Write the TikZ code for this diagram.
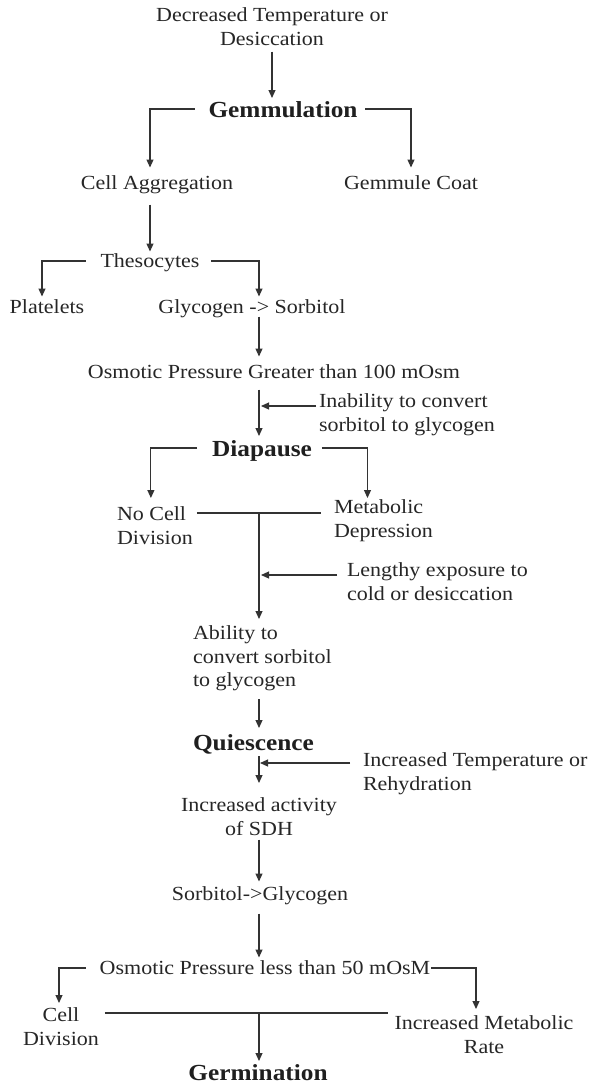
\documentclass[tikz,border=0pt]{standalone}
\usepackage{fontspec}
\setmainfont{Liberation Serif}[FakeStretch=1.1]
\usetikzlibrary{arrows.meta,calc}
\begin{document}
\begin{tikzpicture}[x=1pt,y=-1pt,
  txt/.style={inner sep=0pt,outer sep=0pt,font=\fontsize{20}{23.5}\selectfont,text=black!85},
  one/.style={txt,text height=16pt,text depth=3pt},
  big/.style={inner sep=0pt,outer sep=0pt,font=\fontsize{23}{27}\selectfont\bfseries,text=black!88,text height=18pt,text depth=2pt},
  arr/.style={draw=black!80,line width=1.1pt,-{Triangle[length=8pt,width=7pt]}},
  ln/.style={draw=black!80,line width=1.1pt}]
\useasboundingbox[fill=white] (0,0) rectangle (594,1085);
\coordinate (sp) at (259,0);

\node[txt,align=center,anchor=north] (top) at (272,8) {Decreased Temperature or\\Desiccation};
\node[big] (gem) at (283,109) {Gemmulation};
\node[one] (cellagg) at (157,183) {Cell Aggregation};
\node[one] (coat) at (411,183) {Gemmule Coat};
\node[one] (thes) at (150,261) {Thesocytes};
\node[one] (plat) at (47,307) {Platelets};
\node[one] (glyc) at (252,307) {Glycogen -> Sorbitol};
\node[one] (osm1) at (274,372) {Osmotic Pressure Greater than 100 mOsm};
\node[txt,align=left,anchor=north west] (inab) at (319,394) {Inability to convert\\sorbitol to glycogen};
\node[big] (diap) at (262,448) {Diapause};
\node[txt,align=left,anchor=north west] (nocell) at (117,507) {No Cell\\Division};
\node[txt,align=left,anchor=north west] (metab) at (334,500) {Metabolic\\Depression};
\node[txt,align=left,anchor=north west] (lengthy) at (347,563) {Lengthy exposure to\\cold or desiccation};
\node[txt,align=left,anchor=north west] (ability) at (193,626) {Ability to\\convert sorbitol\\to glycogen};
\node[big,anchor=west] (quies) at (193,742) {Quiescence};
\node[txt,align=left,anchor=north west] (inctemp) at (363,753) {Increased Temperature or\\Rehydration};
\node[txt,align=center,anchor=north] (sdh) at (259,798) {Increased activity\\of SDH};
\node[one] (sorb) at (260,894) {Sorbitol->Glycogen};
\node[one] (osm2) at (265,968) {Osmotic Pressure less than 50 mOsM};
\node[txt,align=center,anchor=north] (celldiv) at (61,1008) {Cell\\Division};
\node[txt,align=center,anchor=north] (incmet) at (484,1016) {Increased Metabolic\\Rate};
\node[big] (germ) at (258,1072) {Germination};

% connectors
\draw[arr,shorten <=6pt,shorten >=1pt] (top.south) -- (top.south |- gem.north);
\draw[arr,shorten <=14pt,shorten >=6pt] (gem.west) -| ([xshift=-7pt]cellagg.north);
\draw[arr,shorten <=8pt,shorten >=6pt] (gem.east) -| (coat.north);
\draw[arr,shorten <=12pt,shorten >=0pt] ([xshift=-7pt]cellagg.south) -- ([xshift=-7pt]cellagg.south |- thes.north);
\draw[arr,shorten <=15pt,shorten >=1pt] (thes.west) -| ([xshift=-5pt]plat.north);
\draw[arr,shorten <=12pt,shorten >=1pt] (thes.east) -| ([xshift=7pt]glyc.north);
\draw[arr,shorten <=0pt,shorten >=6pt] (glyc.south -| sp) -- (osm1.north -| sp);
\draw[arr,shorten <=8pt,shorten >=2pt] (osm1.south -| sp) -- (diap.north -| sp);
\draw[arr,shorten >=2pt] ($(inab.north west)+(-3pt,-12pt)$) coordinate (i1) -- (i1 -| sp);
\draw[arr,shorten <=15pt,shorten >=9pt] (diap.west) -| ([xshift=-4pt]nocell.north);
\draw[arr,shorten <=10pt,shorten >=2pt] (diap.east) -| ([xshift=-16pt]metab.north);
\draw[ln] ($(nocell.north east)+(4pt,-6pt)$) -- ($(nocell.north east -| metab.west)+(-13pt,-6pt)$);
\draw[arr,shorten >=7pt] ($(nocell.north -| sp)+(0,-6pt)$) -- (ability.north -| sp);
\draw[arr,shorten >=2pt] ($(lengthy.north west)+(-10pt,-12pt)$) coordinate (l1) -- (l1 -| sp);
\draw[arr,shorten <=8pt,shorten >=4pt] (ability.south -| sp) -- (quies.north -| sp);
\draw[arr,shorten <=4pt,shorten >=15pt] (quies.south -| sp) -- (sdh.north -| sp);
\draw[arr,shorten >=1pt] ($(inctemp.north west)+(-13pt,-10pt)$) coordinate (t1) -- (t1 -| sp);
\draw[arr,shorten <=4pt,shorten >=3pt] (sdh.south -| sp) -- (sorb.north -| sp);
\draw[arr,shorten <=10pt,shorten >=1pt] (sorb.south -| sp) -- (osm2.north -| sp);
\draw[arr,shorten <=14pt,shorten >=5pt] (osm2.west) -| ([xshift=-2pt]celldiv.north);
\draw[arr,shorten <=1pt,shorten >=7pt] (osm2.east) -| ([xshift=-8pt]incmet.north);
\draw[ln] ($(celldiv.north east)+(6pt,-5pt)$) -- ($(celldiv.north east -| incmet.west)+(-7pt,-5pt)$);
\draw[arr,shorten >=1pt] ($(celldiv.north -| sp)+(0,-5pt)$) -- (germ.north -| sp);
\end{tikzpicture}
\end{document}
